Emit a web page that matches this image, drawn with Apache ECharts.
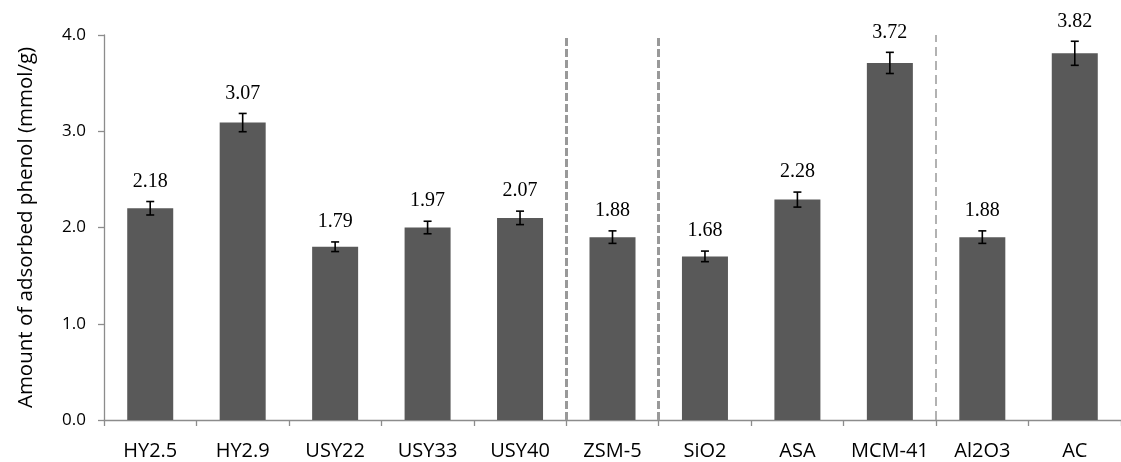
<!DOCTYPE html>
<html>
<head>
<meta charset="utf-8">
<script src="https://cdn.jsdelivr.net/npm/echarts@6/dist/echarts.min.js"></script>
<style>
html,body{margin:0;padding:0;background:#fff;overflow:hidden;}
#chart{width:1121px;height:462px;}
</style>
</head>
<body>
<div id="chart"></div>
<script>
// ---- data ----
const categories = ['HY2.5','HY2.9','USY22','USY33','USY40','ZSM-5','SiO2','ASA','MCM-41','Al2O3','AC'];
const barValues  = [2.20, 3.09, 1.80, 2.00, 2.10, 1.90, 1.70, 2.29, 3.71, 1.90, 3.81];
const errValues  = [0.07, 0.095, 0.05, 0.065, 0.07, 0.065, 0.055, 0.078, 0.11, 0.065, 0.125];
const valueLabels = ['2.18','3.07','1.79','1.97','2.07','1.88','1.68','2.28','3.72','1.88','3.82'];
const yTicks = [0, 1, 2, 3, 4];
const thickDividers = [5, 6];   // boundaries between category groups (category index)
const thinDividers = [9];
const yTitle = 'Amount of adsorbed phenol (mmol/g)';

const errData = categories.map((c, i) => [i, barValues[i], errValues[i]]);

const chart = echarts.init(document.getElementById('chart'), null, {renderer: 'canvas'});
const axisGray = '#8c8c8c';
const sans = '"Open Sans", "Noto Sans", sans-serif';

chart.setOption({
  animation: false,
  backgroundColor: '#fff',
  grid: {left: 104, right: -7, top: 35, bottom: 42, containLabel: false},
  xAxis: [{
    type: 'category',
    data: categories,
    boundaryGap: true,
    axisLine: {show: true, lineStyle: {color: axisGray, width: 1.3}},
    axisTick: {show: true, length: 6, lineStyle: {color: axisGray, width: 1.3}},
    axisLabel: {color: '#000', fontFamily: sans, fontSize: 20, margin: 21, interval: 0},
    splitLine: {show: false}
  }, {
    type: 'value', min: 0, max: categories.length, show: false
  }],
  yAxis: {
    type: 'value',
    min: yTicks[0], max: yTicks[yTicks.length - 1], interval: 1,
    name: yTitle,
    nameLocation: 'middle',
    nameGap: 67,
    nameTextStyle: {color: '#000', fontFamily: sans, fontSize: 20.5},
    axisLine: {show: true, lineStyle: {color: axisGray, width: 1.3}},
    axisTick: {show: true, length: 6, lineStyle: {color: axisGray, width: 1.3}},
    axisLabel: {color: '#000', fontFamily: sans, fontSize: 17, margin: 18,
      formatter: v => v.toFixed(1)},
    splitLine: {show: false}
  },
  series: [{
    type: 'bar',
    data: barValues,
    barWidth: 46,
    itemStyle: {color: '#595959'},
    z: 2
  }, {
    type: 'custom',
    data: errData,
    z: 5,
    renderItem: function (params, api) {
      const idx = api.value(0), v = api.value(1), e = api.value(2);
      const label = valueLabels[params.dataIndex];
      const top = api.coord([idx, v + e]);
      const bot = api.coord([idx, v - e]);
      const x = top[0];
      const cap = 4;
      const ls = {stroke: '#000', lineWidth: 1.6};
      return {
        type: 'group',
        children: [
          {type: 'line', shape: {x1: x, y1: top[1], x2: x, y2: bot[1]}, style: ls},
          {type: 'line', shape: {x1: x - cap, y1: top[1], x2: x + cap, y2: top[1]}, style: ls},
          {type: 'line', shape: {x1: x - cap, y1: bot[1], x2: x + cap, y2: bot[1]}, style: ls},
          {type: 'text', x: x, y: top[1] - 10,
            style: {text: label, align: 'center', verticalAlign: 'bottom',
              font: '20px "Liberation Serif", "Times New Roman", serif', fill: '#000'}}
        ]
      };
    }
  }, {
    type: 'line',
    xAxisIndex: 1,
    data: [],
    symbol: 'none',
    silent: true,
    markLine: {
      silent: true,
      symbol: ['none', 'none'],
      label: {show: false},
      data: thickDividers.map(v => ({xAxis: v, lineStyle: {color: '#999', width: 3, type: [8, 3]}}))
        .concat(thinDividers.map(v => ({xAxis: v, lineStyle: {color: '#999', width: 1.5, type: [9, 5]}})))
    }
  }]
});
</script>
</body>
</html>
